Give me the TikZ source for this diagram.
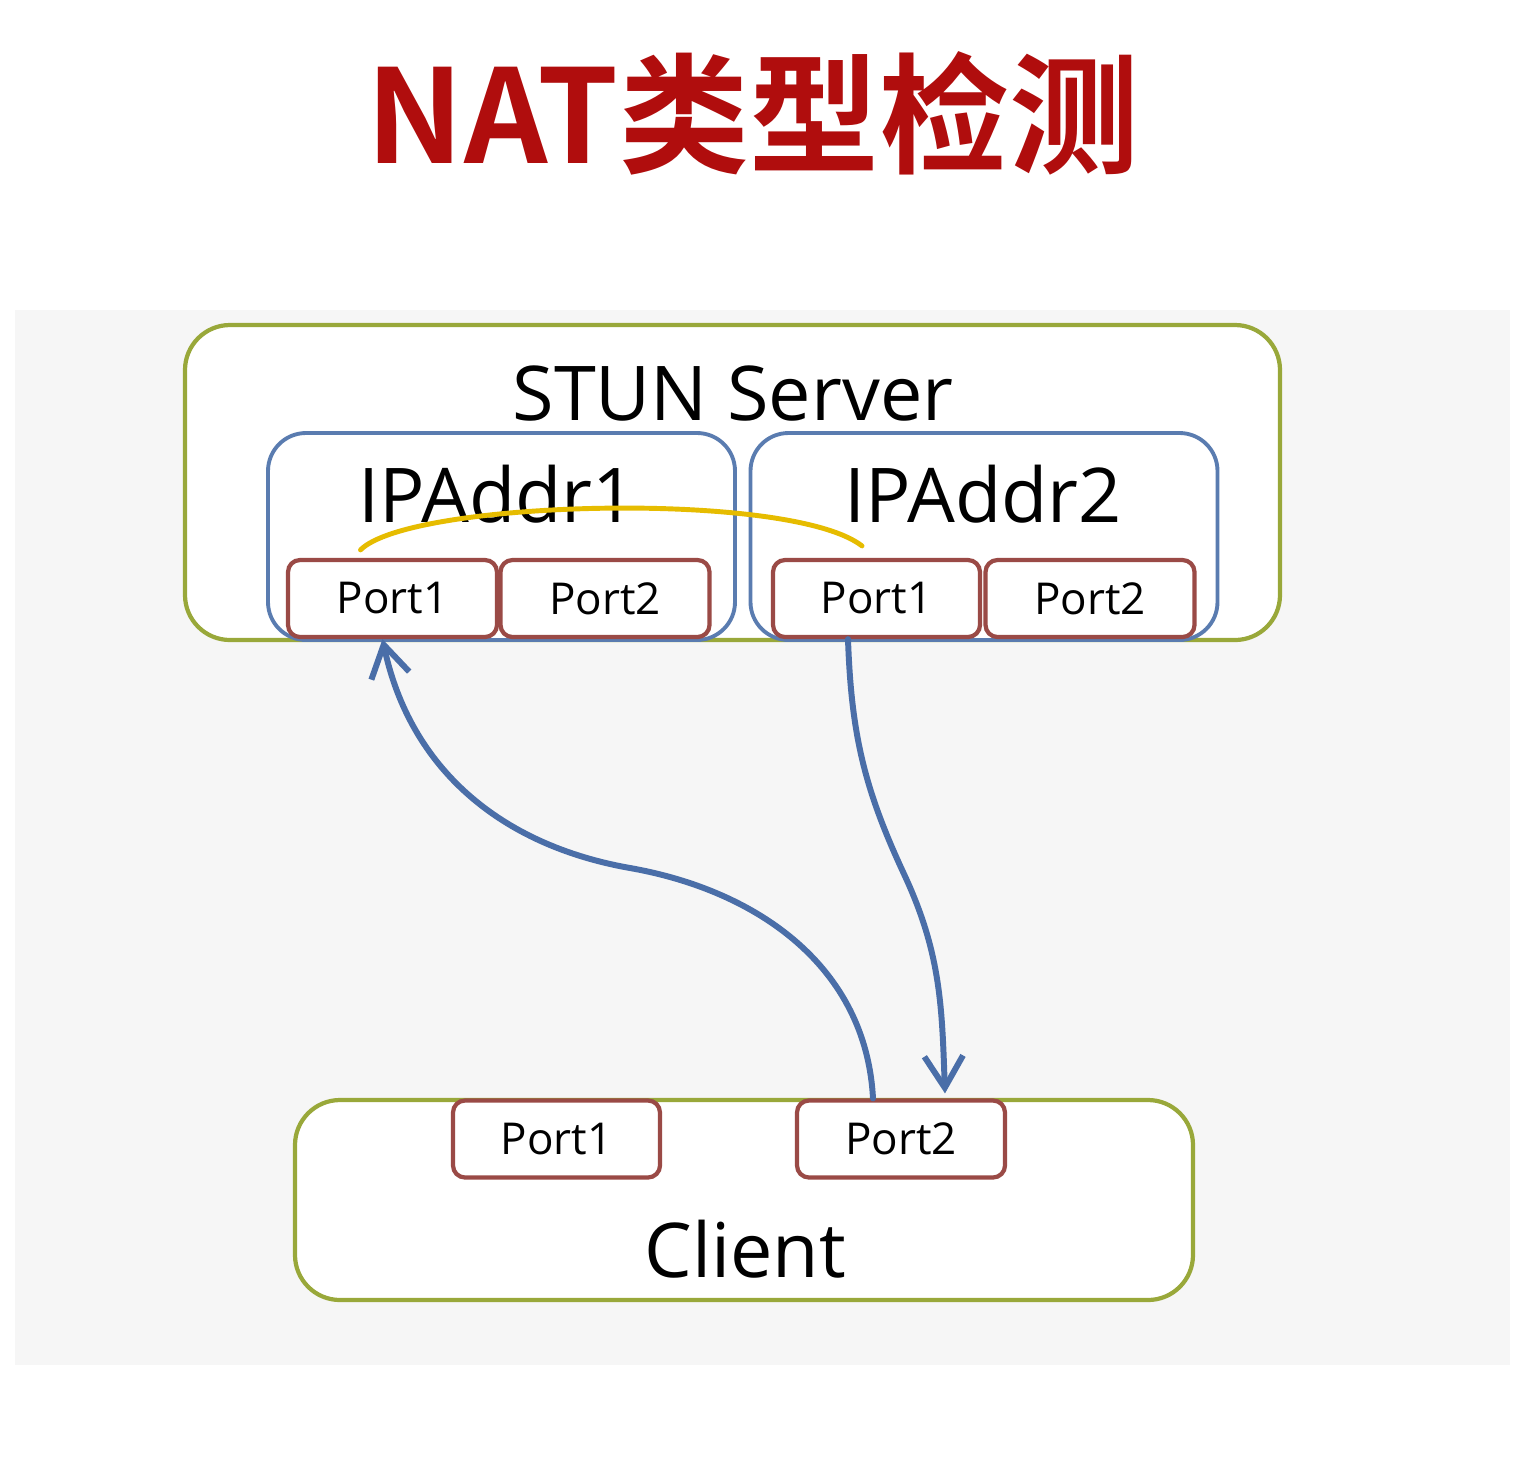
\documentclass[tikz,border=0pt]{standalone}
\usepackage{fontspec}
\setmainfont{Open Sans}
\newfontfamily\cjk{Noto Sans CJK SC}[BoldFont={Noto Sans CJK SC Bold}]
\usetikzlibrary{arrows.meta,positioning,calc}
\definecolor{titlered}{HTML}{B00D0D}
\definecolor{boxgreen}{HTML}{99A83A}
\definecolor{boxblue}{HTML}{5A7CB0}
\definecolor{portred}{HTML}{9A4A46}
\definecolor{arrowblue}{HTML}{4A6EA8}
\definecolor{arcgold}{HTML}{E6BC00}
\definecolor{bggray}{HTML}{F6F6F6}

\begin{document}
\begin{tikzpicture}[
  big/.style={font=\fontsize{21.5}{25}\selectfont, inner sep=0pt},
  host/.style={draw=boxgreen, line width=1.2pt, fill=white, rounded corners=0.45cm, inner sep=0pt},
  addr/.style={draw=boxblue, line width=1.1pt, fill=white, rounded corners=0.38cm, inner sep=0pt,
    minimum width=4.67cm, minimum height=2.07cm},
  port/.style={draw=portred, line width=1.2pt, fill=white, rounded corners=0.12cm, inner sep=0pt,
    minimum width=2.07cm, minimum height=0.77cm, font=\fontsize{12.5}{15}\selectfont},
  flow/.style={draw=arrowblue, line width=1.7pt, line cap=round,
    -{Straight Barb[length=9pt, width=11pt, line width=1.7pt]}}
]
\useasboundingbox (0,0) rectangle (15.32,-14.77);
\fill[bggray] (0.15,-3.10) rectangle (15.10,-13.65);

% title
\node[anchor=base, text=titlered, font=\cjk\bfseries\fontsize{37}{41}\selectfont] (title) at (7.53,-1.63) {NAT类型检测};

% server side
\node[host, minimum width=10.95cm, minimum height=3.15cm] (stun) at (7.325,-4.825) {};
\node[big, anchor=base] (stunlbl) at (7.33,-4.20) {STUN Server};
\node[addr] (ip1) at (5.015,-5.365) {};
\node[addr] (ip2) at (9.84,-5.365) {};
\node[big, anchor=base] (ip1lbl) at (4.97,-5.22) {IPAddr1};
\node[big, anchor=base] (ip2lbl) at (9.83,-5.22) {IPAddr2};
\node[port, minimum width=2.09cm] (s1p1) at (3.925,-5.985) {Port1};
\node[port, minimum width=2.09cm] (s1p2) at (6.05,-5.985) {Port2};
\node[port, minimum width=2.07cm] (s2p1) at (8.765,-5.985) {Port1};
\node[port, minimum width=2.09cm] (s2p2) at (10.90,-5.985) {Port2};

% client side
\node[host, minimum width=8.98cm, minimum height=2.0cm] (client) at (7.44,-12.0) {};
\node[big, anchor=base] (clientlbl) at (7.45,-12.77) {Client};
\node[port] (cp1) at (5.565,-11.39) {Port1};
\node[port, minimum width=2.08cm] (cp2) at (9.01,-11.39) {Port2};

% yellow hop between the two addresses
\draw[arcgold, line width=1.4pt, line cap=round]
  ([xshift=-0.32cm, yshift=0.08cm]s1p1.north) .. controls (4.1,-5.0) and (7.9,-4.9) .. ([xshift=-0.145cm, yshift=0.12cm]s2p1.north);

% request and response
\draw[flow] ([xshift=-0.28cm]cp2.north) to[out=93, in=-10] (6.3,-8.68) to[out=170, in=-78] ([xshift=-0.1cm]s1p1.south);
\draw[flow] ([xshift=-0.285cm]s2p1.south) to[out=-88, in=115] (9.04,-8.74) to[out=-65, in=92] ([xshift=0.44cm, yshift=0.05cm]cp2.north);
\end{tikzpicture}
\end{document}
